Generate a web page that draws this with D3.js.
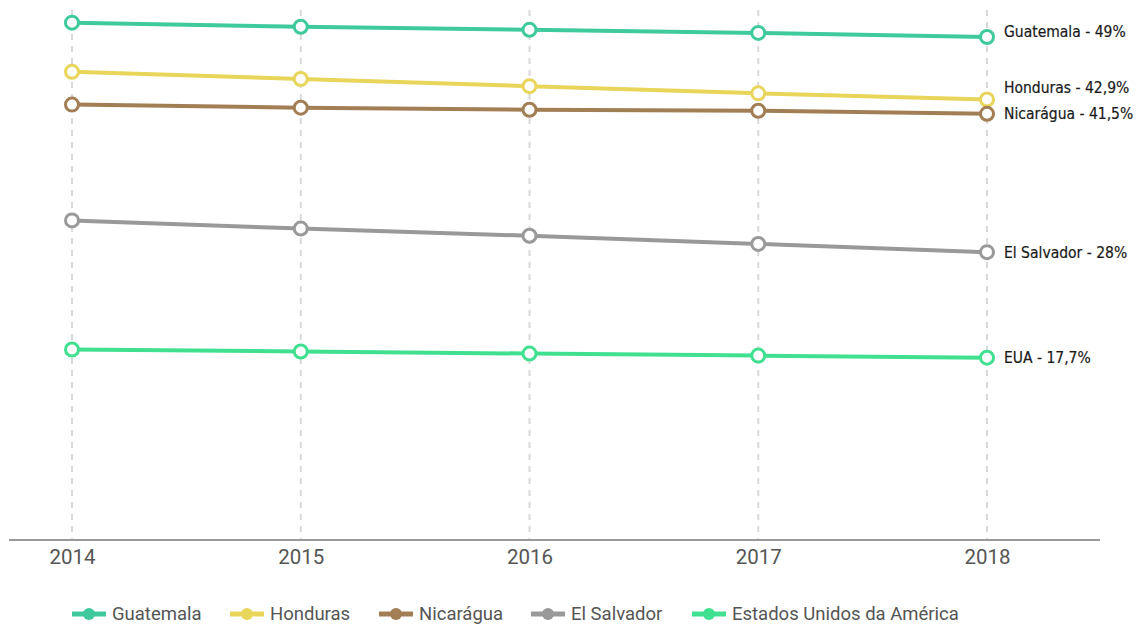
<!DOCTYPE html>
<html>
<head>
    <meta charset="utf-8">
    <style>
        body { margin: 0; background: #fff; }
        .tick text { font: 20.5px Roboto, sans-serif; fill: #555; }
        .legend text { font: 18.5px Roboto, sans-serif; fill: #555; }
        .endlabel { font: 15.5px "DejaVu Sans Condensed", Tahoma, sans-serif; fill: #1a1a1a; stroke: #1a1a1a; stroke-width: 0.2; }
    </style>
    <script src="https://d3js.org/d3.v7.min.js"></script>
</head>
<body>
    <svg width="1140" height="624"></svg>
    <script>
    var years = [2014, 2015, 2016, 2017, 2018];
    var names = ["Guatemala", "Honduras", "Nicarágua", "El Salvador", "Estados Unidos da América"];
    var shortNames = ["Guatemala", "Honduras", "Nicarágua", "El Salvador", "EUA"];
    var endLabels = ["49%", "42,9%", "41,5%", "28%", "17,7%"];
    var guatemala = [50.4, 50.0, 49.7, 49.4, 49.0];
    var honduras = [45.6, 44.9, 44.2, 43.5, 42.9];
    var nicaragua = [42.4, 42.1, 41.9, 41.8, 41.5];
    var elSalvador = [31.1, 30.3, 29.6, 28.8, 28.0];
    var eua = [18.5, 18.3, 18.1, 17.9, 17.7];
    var colors = ["#3fca9e", "#e8d55a", "#a27e55", "#999999", "#40e090"];

    var series = [guatemala, honduras, nicaragua, elSalvador, eua].map(function(v, i) {
        return { name: names[i], label: shortNames[i] + " - " + endLabels[i], values: v, color: colors[i] };
    });
    // label offsets so Honduras and Nicarágua don't collide
    var labelDy = [-5, -12, 0, 0, 0];

    var svg = d3.select("svg");
    var x = d3.scalePoint().domain(years).range([72, 987]);
    var y = d3.scaleLinear().domain([0, 49]).range([539, 37]);

    // vertical dashed gridlines
    svg.append("g").selectAll("line")
        .data(years).enter().append("line")
        .attr("x1", function(d) { return x(d); })
        .attr("x2", function(d) { return x(d); })
        .attr("y1", 10).attr("y2", 540)
        .attr("stroke", "#d9d9d9")
        .attr("stroke-width", 2)
        .attr("stroke-dasharray", "6,6");

    // x axis
    var xAxis = svg.append("g")
        .attr("transform", "translate(0,540)")
        .call(d3.axisBottom(x).tickSize(0).tickPadding(9));
    xAxis.select(".domain").remove();
    xAxis.append("line")
        .attr("x1", 9).attr("x2", 1100)
        .attr("stroke", "#999").attr("stroke-width", 2);

    var line = d3.line()
        .x(function(d, i) { return x(years[i]); })
        .y(function(d) { return y(d); });

    var g = svg.selectAll(".series")
        .data(series).enter().append("g")
        .attr("class", "series");

    g.append("path")
        .attr("d", function(d) { return line(d.values); })
        .attr("fill", "none")
        .attr("stroke", function(d) { return d.color; })
        .attr("stroke-width", 4);

    g.selectAll("circle")
        .data(function(d) { return d.values.map(function(v, i) { return { v: v, i: i, c: d.color }; }); })
        .enter().append("circle")
        .attr("cx", function(d) { return x(years[d.i]); })
        .attr("cy", function(d) { return y(d.v); })
        .attr("r", 6.5)
        .attr("fill", "#fff")
        .attr("stroke", function(d) { return d.c; })
        .attr("stroke-width", 3);

    g.append("text")
        .attr("class", "endlabel")
        .attr("x", x(2018) + 17)
        .attr("y", function(d, i) { return y(d.values[4]) + labelDy[i]; })
        .attr("dy", "0.35em")
        .text(function(d) { return d.label; });

    // legend
    var legendX = [72, 230, 379, 531, 692];
    var legend = svg.append("g").attr("class", "legend")
        .selectAll("g").data(series).enter().append("g")
        .attr("transform", function(d, i) { return "translate(" + legendX[i] + ",614)"; });
    legend.append("line")
        .attr("x1", 0).attr("x2", 34)
        .attr("stroke", function(d) { return d.color; })
        .attr("stroke-width", 5);
    legend.append("circle")
        .attr("cx", 17).attr("r", 6)
        .attr("fill", function(d) { return d.color; });
    legend.append("text")
        .attr("x", 40)
        .attr("dy", "0.35em")
        .text(function(d) { return d.name; });
    </script>
</body>
</html>
